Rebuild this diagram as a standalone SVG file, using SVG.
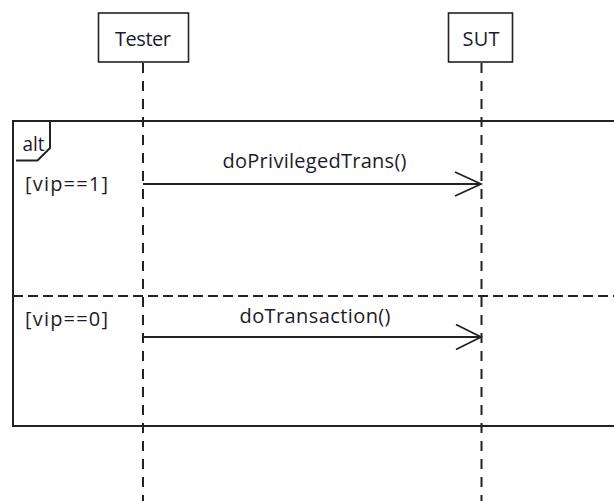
<svg xmlns="http://www.w3.org/2000/svg" width="614" height="501" viewBox="0 0 614 501">
  <style>
    .box { fill: #ffffff; stroke: #222222; stroke-width: 1.6; }
    .life { stroke: #222222; stroke-width: 2; stroke-dasharray: 10 8; fill: none; }
    .frame { fill: none; stroke: #222222; stroke-width: 2; }
    .divider { stroke: #222222; stroke-width: 2; stroke-dasharray: 10 5; fill: none; }
    .msg { stroke: #222222; stroke-width: 1.8; fill: none; }
    .head { stroke: #222222; stroke-width: 1.8; fill: none; }
    text { font-family: "Open Sans", "DejaVu Sans", sans-serif; font-size: 20px; fill: #1c1c2a; }
  </style>
  <rect width="614" height="501" fill="#ffffff"/>

  <!-- combined fragment: alt -->
  <g id="alt-fragment">
    <polyline class="frame" points="616,121 13,121 13,426 616,426"/>
    <polyline class="frame" points="50,121 50,148 37.5,160.5 16,160.5"/>
    <text x="22.5" y="150.5" textLength="22" lengthAdjust="spacingAndGlyphs">alt</text>
    <line class="divider" x1="13" y1="296" x2="614" y2="296"/>
    <text x="25" y="191" textLength="83" lengthAdjust="spacing">[vip==1]</text>
    <text x="25" y="326" textLength="83" lengthAdjust="spacing">[vip==0]</text>
  </g>

  <g id="connectors">
    <!-- lifelines -->
    <line class="life" x1="143" y1="63" x2="143" y2="501"/>
    <line class="life" x1="481.5" y1="63" x2="481.5" y2="501"/>
    <!-- messages -->
    <g id="msg-doPrivilegedTrans">
      <line class="msg" x1="143" y1="184" x2="481" y2="184"/>
      <polyline class="head" points="455,172 481,184 455,196"/>
      <text x="222.5" y="168" textLength="184" lengthAdjust="spacing">doPrivilegedTrans()</text>
    </g>
    <g id="msg-doTransaction">
      <line class="msg" x1="143" y1="337" x2="481" y2="337"/>
      <polyline class="head" points="456,324.5 481,337 456,349.5"/>
      <text x="239.5" y="323" textLength="151" lengthAdjust="spacing">doTransaction()</text>
    </g>
  </g>

  <g id="tester">
    <rect class="box" x="98.5" y="13" width="90" height="49"/>
    <text x="115" y="46" textLength="56" lengthAdjust="spacing">Tester</text>
  </g>
  <g id="sut">
    <rect class="box" x="448.5" y="13" width="64" height="49"/>
    <text x="462.5" y="46" textLength="37" lengthAdjust="spacing">SUT</text>
  </g>
</svg>
